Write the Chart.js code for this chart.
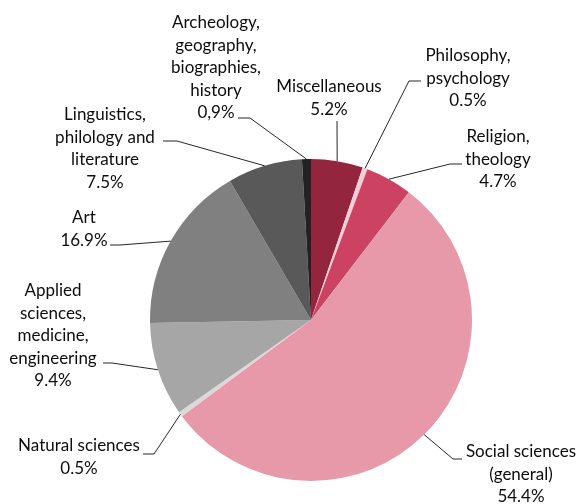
<!DOCTYPE html>
<html>
<head>
<meta charset="utf-8">
<script src="https://cdn.jsdelivr.net/npm/chart.js@4.4.1/dist/chart.umd.min.js"></script>
<style>
  html, body { margin: 0; padding: 0; background: #ffffff; }
  #wrap { width: 579px; height: 504px; }
</style>
</head>
<body>
<div id="wrap"><canvas id="c" width="579" height="504"></canvas></div>
<script>
// ---- Data ----
const categories = [
  "Miscellaneous",
  "Philosophy,\npsychology",
  "Religion,\ntheology",
  "Social sciences\n(general)",
  "Natural sciences",
  "Applied\nsciences,\nmedicine,\nengineering",
  "Art",
  "Linguistics,\nphilology and\nliterature",
  "Archeology,\ngeography,\nbiographies,\nhistory"
];
const shares = [5.2, 0.5, 4.7, 54.4, 0.5, 9.4, 16.9, 7.5, 0.9];
const shareLabels = ["5.2%", "0.5%", "4.7%", "54.4%", "0.5%", "9.4%", "16.9%", "7.5%", "0,9%"];

// ---- Styles ----
const sliceColors = ["#94253e", "#f4cdd6", "#cc4262", "#e799aa", "#d9d9d9", "#a6a6a6", "#808080", "#595959", "#222222"];

// Label placement (offsets from the pie centre, px): text centre of first line, and leader path points
const labelLayout = [
  { tx: 18,   ty: -233, path: [[26, -199]] },
  { tx: 157,  ty: -264, path: [[98, -239], [110, -239]] },
  { tx: 187,  ty: -183, path: [[139, -156], [151, -156]] },
  { tx: 210,  ty: 132,  path: [[142, 139], [151, 139]] },
  { tx: -232, ty: 126,  path: [[-157, 134], [-168, 134]] },
  { tx: -258, ty: -29,  path: [[-199, 43], [-208, 43]] },
  { tx: -227, ty: -102, path: [[-191, -75], [-201, -75]] },
  { tx: -206, ty: -205, path: [[-134, -179], [-148, -179]] },
  { tx: -95,  ty: -297, path: [[-61, -202], [-73, -202]] }
];

const FONT = '17px Lato, "Open Sans", sans-serif';
const LINE_H = 22.5;

const outsideLabels = {
  id: 'outsideLabels',
  afterDatasetsDraw(chart) {
    const ctx = chart.ctx;
    const meta = chart.getDatasetMeta(0);
    ctx.save();
    meta.data.forEach((arc, i) => {
      const lay = labelLayout[i];
      const cx = arc.x, cy = arc.y;
      const mid = (arc.startAngle + arc.endAngle) / 2;
      const sx = cx + Math.cos(mid) * arc.outerRadius;
      const sy = cy + Math.sin(mid) * arc.outerRadius;
      // leader line
      ctx.beginPath();
      ctx.strokeStyle = '#262626';
      ctx.lineWidth = 1;
      ctx.moveTo(sx, sy);
      lay.path.forEach(p => ctx.lineTo(cx + p[0], cy + p[1]));
      ctx.stroke();
      // text
      const lines = chart.data.labels[i].split('\n').concat([shareLabels[i]]);
      ctx.font = FONT;
      ctx.fillStyle = '#0d0d0d';
      ctx.textAlign = 'center';
      ctx.textBaseline = 'middle';
      lines.forEach((t, k) => ctx.fillText(t, cx + lay.tx, cy + lay.ty + k * LINE_H));
    });
    ctx.restore();
  }
};

new Chart(document.getElementById('c'), {
  type: 'pie',
  data: {
    labels: categories,
    datasets: [{
      data: shares,
      backgroundColor: sliceColors,
      borderWidth: 0,
      hoverOffset: 0
    }]
  },
  options: {
    responsive: false,
    animation: false,
    devicePixelRatio: 1,
    rotation: 0,
    layout: { padding: { left: 150, right: 107, top: 159, bottom: 23 } },
    plugins: {
      legend: { display: false },
      tooltip: { enabled: false }
    }
  },
  plugins: [outsideLabels]
});
</script>
</body>
</html>
